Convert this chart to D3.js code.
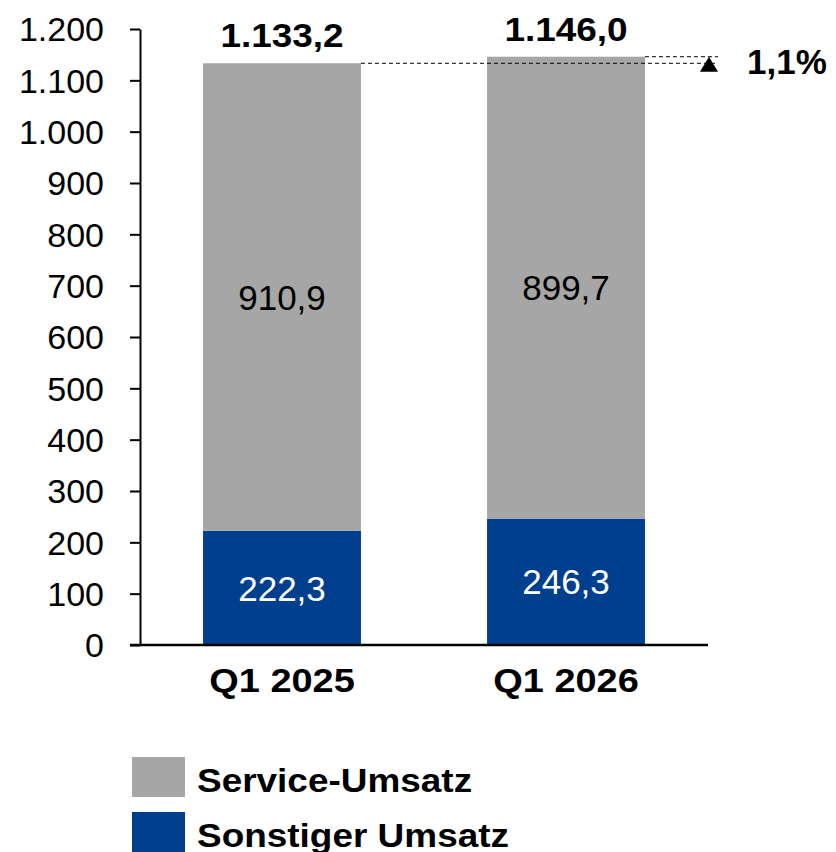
<!DOCTYPE html>
<html>
<head>
<meta charset="utf-8">
<script src="https://cdn.jsdelivr.net/npm/d3@7"></script>
<style>
  body { margin: 0; background: #fff; }
  svg { display: block; font-family: "Liberation Sans", Arial, sans-serif; }
</style>
</head>
<body>
<svg id="chart" width="836" height="852"></svg>
<script>
// data
const categories = ['Q1 2025', 'Q1 2026'];
const sonstigerUmsatz = [222.3, 246.3];
const serviceUmsatz = [910.9, 899.7];
const totals = [1133.2, 1146.0];
const yTicks = [0, 100, 200, 300, 400, 500, 600, 700, 800, 900, 1000, 1100, 1200];
const seriesNames = ['Service-Umsatz', 'Sonstiger Umsatz'];
const seriesColors = ['#a6a6a6', '#003f8e'];

const de = d3.formatLocale({decimal: ',', thousands: '.', grouping: [3], currency: ['', ' €']});
const fmtTick = de.format(',.0f');
const fmtVal = de.format(',.1f');
const fmtPct = de.format('.1%');

const svg = d3.select('#chart');

const x = d3.scaleBand()
  .domain(categories)
  .range([140, 708])
  .paddingInner(0.444)
  .paddingOuter(0.222);

const y = d3.scaleLinear()
  .domain([0, 1200])
  .range([645, 29]);

// stacked data
const rows = categories.map((c, i) => ({cat: c, sonstiger: sonstigerUmsatz[i], service: serviceUmsatz[i], total: totals[i]}));
const stack = d3.stack().keys(['sonstiger', 'service']);
const layers = stack(rows);
const layerColor = {sonstiger: seriesColors[1], service: seriesColors[0]};

const barsG = svg.append('g').attr('class', 'bars');
layers.forEach(layer => {
  barsG.selectAll('.b-' + layer.key)
    .data(layer)
    .enter().append('rect')
    .attr('class', 'b-' + layer.key)
    .attr('x', d => x(d.data.cat))
    .attr('y', d => y(d[1]))
    .attr('width', x.bandwidth())
    .attr('height', d => y(d[0]) - y(d[1]))
    .attr('fill', layerColor[layer.key]);

  // segment labels
  barsG.selectAll('.l-' + layer.key)
    .data(layer)
    .enter().append('text')
    .attr('class', 'l-' + layer.key)
    .attr('x', d => x(d.data.cat) + x.bandwidth() / 2)
    .attr('y', d => (y(d[0]) + y(d[1])) / 2)
    .attr('dy', '0.36em')
    .attr('text-anchor', 'middle')
    .attr('font-size', 35)
    .attr('fill', layer.key === 'sonstiger' ? '#fff' : '#000')
    .text(d => fmtVal(d.data[layer.key]));
});

// totals (bold text in the original is a bit wider, stretch it)
svg.append('g').selectAll('text')
  .data(rows)
  .enter().append('text')
  .attr('transform', d => `translate(${x(d.cat) + x.bandwidth() / 2},${y(d.total) - 16}) scale(1.12,1)`)
  .attr('text-anchor', 'middle')
  .attr('font-size', 33)
  .attr('font-weight', 'bold')
  .text(d => fmtVal(d.total));

// y axis
const yAxis = d3.axisLeft(y)
  .tickValues(yTicks)
  .tickFormat(fmtTick)
  .tickSize(10)
  .tickSizeOuter(0)
  .tickPadding(26);

const yAxisG = svg.append('g')
  .attr('transform', 'translate(140,0)')
  .call(yAxis);
yAxisG.select('.domain').attr('stroke', '#000').attr('stroke-width', 2);
yAxisG.selectAll('.tick line').attr('stroke', '#000').attr('stroke-width', 2);
yAxisG.selectAll('.tick text')
  .attr('font-size', 34)
  .attr('font-family', '"Liberation Sans", Arial, sans-serif')
  .attr('fill', '#000')
  .attr('dy', '0.35em');

// x axis
const xAxis = d3.axisBottom(x).tickSize(0).tickPadding(24);
const xAxisG = svg.append('g')
  .attr('transform', `translate(0,${y(0)})`)
  .call(xAxis);
xAxisG.select('.domain').remove();
xAxisG.append('line')
  .attr('x1', 130).attr('x2', 708)
  .attr('stroke', '#000').attr('stroke-width', 2.5);
xAxisG.selectAll('.tick text')
  .attr('font-size', 33)
  .attr('font-weight', 'bold')
  .attr('transform', 'scale(1.15,1)')
  .attr('font-family', '"Liberation Sans", Arial, sans-serif')
  .attr('fill', '#000')
  .attr('dy', '0.71em');

// growth marker
const xr0 = x(categories[0]) + x.bandwidth();
const xr1 = x(categories[1]) + x.bandwidth();
const xEnd = 718;
const markG = svg.append('g');
markG.append('line')
  .attr('x1', xr0).attr('x2', xEnd)
  .attr('y1', y(totals[0])).attr('y2', y(totals[0]))
  .attr('stroke', '#000').attr('stroke-width', 1).attr('stroke-dasharray', '4,3');
markG.append('line')
  .attr('x1', xr1).attr('x2', xEnd)
  .attr('y1', y(totals[1])).attr('y2', y(totals[1]))
  .attr('stroke', '#000').attr('stroke-width', 1).attr('stroke-dasharray', '4,3');
const triX = 709, triTop = y(totals[1]);
markG.append('path')
  .attr('d', `M${triX},${triTop} L${triX + 9},${triTop + 15} L${triX - 9},${triTop + 15} Z`)
  .attr('fill', '#000');
markG.append('text')
  .attr('x', 747)
  .attr('y', 74)
  .attr('font-size', 35)
  .attr('font-weight', 'bold')
  .text(fmtPct(totals[1] / totals[0] - 1));

// legend
const legendG = svg.append('g');
const legendItems = legendG.selectAll('g')
  .data(seriesNames)
  .enter().append('g')
  .attr('transform', (d, i) => `translate(132,${757 + i * 55})`);
legendItems.append('rect')
  .attr('width', 53).attr('height', 40)
  .attr('fill', (d, i) => seriesColors[i]);
legendItems.append('text')
  .attr('transform', 'translate(65,35) scale(1.12,1)')
  .attr('font-size', 33)
  .attr('font-weight', 'bold')
  .text(d => d);
</script>
</body>
</html>
